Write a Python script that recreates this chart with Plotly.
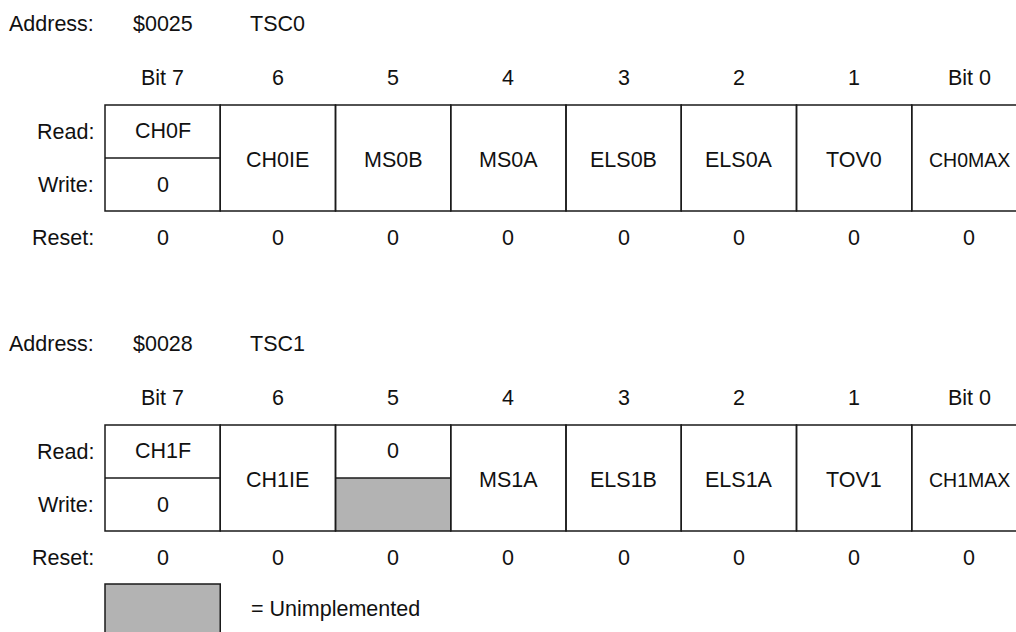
import plotly.graph_objects as go

# register contents, bit 7 down to bit 0
BIT_LABELS = ["Bit 7", "6", "5", "4", "3", "2", "1", "Bit 0"]
ROW_LABELS = ["Read:", "Write:", "Reset:"]

TSC0_ADDRESS = "$0025"
TSC0_NAME = "TSC0"
TSC0_READ = ["CH0F", "CH0IE", "MS0B", "MS0A", "ELS0B", "ELS0A", "TOV0", "CH0MAX"]
TSC0_WRITE = ["0", None, None, None, None, None, None, None]  # None = same field for read and write
TSC0_RESET = ["0", "0", "0", "0", "0", "0", "0", "0"]

TSC1_ADDRESS = "$0028"
TSC1_NAME = "TSC1"
TSC1_READ = ["CH1F", "CH1IE", "0", "MS1A", "ELS1B", "ELS1A", "TOV1", "CH1MAX"]
TSC1_WRITE = ["0", None, "#", None, None, None, None, None]  # "#" = unimplemented
TSC1_RESET = ["0", "0", "0", "0", "0", "0", "0", "0"]

LEGEND_TEXT = "= Unimplemented"

# layout
W, H = 1016, 632
X0 = 105          # left edge of the register box
COL_W = 115.25    # width of one bit cell
LABEL_X = 96      # right edge of the row labels
BOX_H = 106
GRAY = "#b3b3b3"
LINE = dict(color="#1a1a1a", width=1.5)
FONT = dict(family="Liberation Sans, Arial, sans-serif", size=21.5, color="#111111")

fig = go.Figure()
shapes = []
annotations = []


def text(x, y, s, anchor="center", size=None):
    f = dict(FONT)
    if size:
        f["size"] = size
    annotations.append(dict(x=x, y=y, xref="x", yref="y", text=s, showarrow=False,
                            xanchor=anchor, yanchor="middle", font=f))


def draw_register(top, address, name, read, write, reset):
    mid = top + BOX_H / 2
    bottom = top + BOX_H
    text(LABEL_X, top - 81, "Address:", anchor="right")
    text(X0 + COL_W * 0.5, top - 81, address)
    text(X0 + COL_W * 1.5, top - 81, name)
    for i, lab in enumerate(BIT_LABELS):
        text(X0 + COL_W * (i + 0.5), top - 27, lab)
    text(LABEL_X, top + BOX_H / 4, ROW_LABELS[0], anchor="right")
    text(LABEL_X, top + BOX_H * 3 / 4, ROW_LABELS[1], anchor="right")
    text(LABEL_X, bottom + 27, ROW_LABELS[2], anchor="right")

    for i in range(len(read)):
        x0 = X0 + COL_W * i
        x1 = x0 + COL_W
        cx = (x0 + x1) / 2
        sz = 19.5 if len(read[i]) > 5 else None
        if write[i] is None:
            text(cx, mid + 2, read[i], size=sz)
        else:
            if write[i] == "#":
                shapes.append(dict(type="rect", x0=x0, x1=x1, y0=mid, y1=bottom,
                                   fillcolor=GRAY, line=dict(width=0), layer="below"))
            else:
                text(cx, top + BOX_H * 3 / 4, write[i])
            text(cx, top + BOX_H / 4 - 1, read[i], size=sz)
            shapes.append(dict(type="line", x0=x0, x1=x1, y0=mid, y1=mid, line=LINE))
        shapes.append(dict(type="rect", x0=x0, x1=x1, y0=top, y1=bottom,
                           line=LINE, fillcolor="rgba(0,0,0,0)"))
        text(cx, bottom + 27, reset[i])


draw_register(105, TSC0_ADDRESS, TSC0_NAME, TSC0_READ, TSC0_WRITE, TSC0_RESET)
draw_register(425, TSC1_ADDRESS, TSC1_NAME, TSC1_READ, TSC1_WRITE, TSC1_RESET)

# legend
shapes.append(dict(type="rect", x0=X0, x1=X0 + COL_W, y0=584, y1=660,
                   fillcolor=GRAY, line=LINE))
text(249, 609, LEGEND_TEXT, anchor="left")

# data units equal page pixels
fig.update_layout(
    width=W, height=H,
    margin=dict(l=0, r=0, t=0, b=0),
    paper_bgcolor="white", plot_bgcolor="white",
    xaxis=dict(range=[0, W], visible=False, fixedrange=True),
    yaxis=dict(range=[H, 0], visible=False, fixedrange=True),
    shapes=shapes,
    annotations=annotations,
    showlegend=False,
)

# drop the default page margin so the figure fills the window
fig.write_html("out.html",
               config={"displayModeBar": False},
               post_script="document.body.style.margin='0';document.body.style.overflow='hidden';")
